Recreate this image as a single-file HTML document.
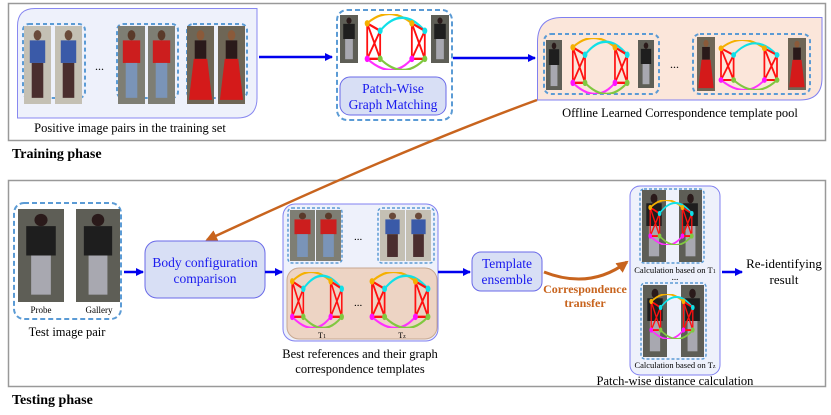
<!DOCTYPE html>
<html><head><meta charset="utf-8"><style>
body{margin:0;background:#fff}
svg{display:block}
text{font-family:"Liberation Serif",serif}
</style></head><body>
<svg width="831" height="415" viewBox="0 0 831 415" xmlns="http://www.w3.org/2000/svg">
<defs>
<marker id="ab" markerWidth="8" markerHeight="8" refX="7" refY="4" orient="auto" markerUnits="userSpaceOnUse"><path d="M0,0L8,4L0,8z" fill="#0000ee"/></marker>
<marker id="ao" markerWidth="12" markerHeight="12" refX="10" refY="6" orient="auto" markerUnits="userSpaceOnUse"><path d="M0,0L12,6L0,12z" fill="#c8641e"/></marker>
<symbol id="pb" viewBox="0 0 28 76" preserveAspectRatio="none"><rect width="28" height="76" fill="#c4c0b4"/><ellipse cx="14" cy="9" rx="4" ry="5" fill="#6a4a3a"/><rect x="6" y="14" width="16" height="22" fill="#3a5aa8"/><rect x="8" y="36" width="12" height="34" fill="#4a2e2e"/></symbol>
<symbol id="pr" viewBox="0 0 28 76" preserveAspectRatio="none"><rect width="28" height="76" fill="#7e7e74"/><ellipse cx="14" cy="9" rx="4" ry="5" fill="#5a3a2a"/><rect x="5" y="14" width="18" height="22" fill="#cc1e1e"/><rect x="8" y="36" width="12" height="34" fill="#7a94b8"/></symbol>
<symbol id="ps" viewBox="0 0 28 76" preserveAspectRatio="none"><rect width="28" height="76" fill="#6e6656"/><ellipse cx="14" cy="9" rx="4" ry="5" fill="#8a5a3a"/><rect x="8" y="14" width="12" height="18" fill="#2a1a1a"/><path d="M7,32L21,32L26,72L2,72z" fill="#d41a1a"/></symbol>
<symbol id="pk" viewBox="0 0 28 76" preserveAspectRatio="none"><rect width="28" height="76" fill="#5e5e56"/><ellipse cx="14" cy="9" rx="4" ry="5" fill="#2a1a1a"/><rect x="5" y="14" width="18" height="24" fill="#1e1e1e"/><rect x="8" y="38" width="12" height="32" fill="#a8a8b0"/></symbol>
<symbol id="g" viewBox="0 0 100 60" preserveAspectRatio="none">
<g fill="none" stroke-width="2.5">
<path d="M10,10 Q40,-10 72,10" stroke="#f5b000"/>
<path d="M28,18 Q58,-10 90,18" stroke="#10e0e8"/>
<path d="M10,48 Q45,72 72,48" stroke="#ff30ff"/>
<path d="M28,48 Q60,72 90,48" stroke="#80c840"/>
<g stroke="#ff1010"><path d="M10,10L28,18L28,48L10,48Z M10,10L28,48 M28,18L10,48"/><path d="M72,10L90,18L90,48L72,48Z M72,10L90,48 M90,18L72,48"/></g>
</g>
<circle cx="10" cy="10" r="3.5" fill="#f5b000"/><circle cx="72" cy="10" r="3.5" fill="#f5b000"/>
<circle cx="28" cy="18" r="3.5" fill="#10e0e8"/><circle cx="90" cy="18" r="3.5" fill="#10e0e8"/>
<circle cx="10" cy="48" r="3.5" fill="#ff10ff"/><circle cx="72" cy="48" r="3.5" fill="#ff10ff"/>
<circle cx="28" cy="48" r="3.5" fill="#80c840"/><circle cx="90" cy="48" r="3.5" fill="#80c840"/>
</symbol>
</defs>

<!-- Training -->
<rect x="8.5" y="3.5" width="817" height="137" fill="#fff" stroke="#999" stroke-width="1.5"/>
<text x="12" y="158" font-size="14" font-weight="bold">Training phase</text>
<path d="M35,8.5H257V98Q257,118 237,118H17.5V26Q17.5,8.5 35,8.5Z" fill="#eef1fb" stroke="#8888f0"/>
<g fill="none" stroke="#5b9bd5" stroke-width="2" stroke-dasharray="4,3">
<rect x="23" y="24" width="62" height="74" rx="6"/><rect x="117" y="24" width="61" height="74" rx="6"/><rect x="187" y="24" width="60" height="74" rx="6"/>
</g>
<use href="#pb" x="24" y="26" width="27" height="78"/><use href="#pb" x="55" y="26" width="27" height="78"/>
<use href="#pr" x="118" y="26" width="27" height="78"/><use href="#pr" x="148" y="26" width="27" height="78"/>
<use href="#ps" x="187" y="26" width="27" height="78"/><use href="#ps" x="218" y="26" width="27" height="78"/>
<text x="95" y="70" font-size="12">...</text>
<text x="130" y="132" font-size="12.5" text-anchor="middle">Positive image pairs in the training set</text>
<line x1="259" y1="57" x2="332" y2="57" stroke="#0000ee" stroke-width="2.5" marker-end="url(#ab)"/>

<rect x="337" y="10" width="115" height="110" rx="10" fill="#fff" stroke="#5b9bd5" stroke-width="2" stroke-dasharray="5,3"/>
<use href="#pk" x="340" y="15" width="18" height="48"/>
<use href="#pk" x="431" y="15" width="18" height="48"/>
<use href="#g" x="360" y="14" width="72" height="56"/>
<rect x="340" y="77" width="106" height="38" rx="10" fill="#d8dff5" stroke="#6a6ae8"/>
<text x="393" y="93" font-size="13.5" fill="#1a1aee" text-anchor="middle">Patch-Wise</text>
<text x="393" y="109" font-size="13.5" fill="#1a1aee" text-anchor="middle">Graph Matching</text>
<line x1="453" y1="58" x2="535" y2="58" stroke="#0000ee" stroke-width="2.5" marker-end="url(#ab)"/>

<path d="M562,17.5H822V78Q822,100 800,100H537.5V42Q537.5,17.5 562,17.5Z" fill="#fbe6da" stroke="#8080f0"/>
<g fill="none" stroke="#5b9bd5" stroke-width="2" stroke-dasharray="4,3">
<rect x="544" y="34" width="115" height="60" rx="7"/><rect x="693" y="34" width="117" height="60" rx="7"/>
</g>
<use href="#pk" x="546" y="40" width="16" height="50"/><use href="#pk" x="638" y="40" width="16" height="48"/>
<use href="#g" x="566" y="38" width="68" height="56"/>
<text x="670" y="68" font-size="12">...</text>
<use href="#ps" x="697" y="37" width="18" height="54"/><use href="#ps" x="788" y="38" width="18" height="52"/>
<use href="#g" x="714" y="40" width="70" height="50"/>
<text x="680" y="117" font-size="12.5" text-anchor="middle">Offline Learned Correspondence template pool</text>

<!-- Testing -->
<rect x="8.5" y="180.5" width="817" height="206" fill="#fff" stroke="#999" stroke-width="1.5"/>
<text x="12" y="404" font-size="14" font-weight="bold">Testing phase</text>
<path d="M537,100 Q400,150 207,240" fill="none" stroke="#c8641e" stroke-width="2.5" marker-end="url(#ao)"/>

<rect x="14" y="203" width="107" height="116" rx="10" fill="#fff" stroke="#5b9bd5" stroke-width="2" stroke-dasharray="5,3"/>
<use href="#pk" x="18" y="209" width="46" height="93"/><use href="#pk" x="76" y="209" width="44" height="93"/>
<text x="41" y="313" font-size="9" text-anchor="middle">Probe</text>
<text x="99" y="313" font-size="9" text-anchor="middle">Gallery</text>
<text x="67" y="336" font-size="12.5" text-anchor="middle">Test image pair</text>
<line x1="124" y1="272" x2="143" y2="272" stroke="#0000ee" stroke-width="2.5" marker-end="url(#ab)"/>
<rect x="145" y="241" width="120" height="57" rx="12" fill="#d8dff5" stroke="#6a6ae8"/>
<text x="205" y="267" font-size="13.5" fill="#1a1aee" text-anchor="middle">Body configuration</text>
<text x="205" y="283" font-size="13.5" fill="#1a1aee" text-anchor="middle">comparison</text>
<line x1="265" y1="272" x2="282" y2="272" stroke="#0000ee" stroke-width="2.5" marker-end="url(#ab)"/>

<rect x="283" y="204" width="155" height="137" rx="12" fill="#eef1fb" stroke="#8080f0"/>
<g fill="none" stroke="#5b9bd5" stroke-width="1.5" stroke-dasharray="3,2">
<rect x="288" y="208" width="54" height="55" rx="4"/><rect x="378" y="208" width="56" height="55" rx="4"/></g>
<use href="#pr" x="290" y="210" width="25" height="51"/><use href="#pr" x="316" y="210" width="25" height="51"/>
<use href="#pb" x="380" y="210" width="25" height="51"/><use href="#pb" x="406" y="210" width="25" height="51"/>
<text x="354" y="240" font-size="11">...</text>
<rect x="287" y="268" width="150" height="71" rx="12" fill="#edd4c4" stroke="#c8a890"/>
<use href="#g" x="286" y="272" width="62" height="56"/>
<use href="#g" x="365" y="272" width="70" height="56"/>
<text x="354" y="306" font-size="11">...</text>
<text x="322" y="338" font-size="8" text-anchor="middle">T<tspan font-size="6">1</tspan></text>
<text x="402" y="338" font-size="8" text-anchor="middle">T<tspan font-size="6">z</tspan></text>
<text x="360" y="358" font-size="12.5" text-anchor="middle">Best references and their graph</text>
<text x="360" y="373" font-size="12.5" text-anchor="middle">correspondence templates</text>
<line x1="438" y1="272" x2="470" y2="272" stroke="#0000ee" stroke-width="2.5" marker-end="url(#ab)"/>

<rect x="472" y="252" width="70" height="39" rx="9" fill="#d8dff5" stroke="#6a6ae8"/>
<text x="507" y="268" font-size="13.5" fill="#1a1aee" text-anchor="middle">Template</text>
<text x="507" y="284" font-size="13.5" fill="#1a1aee" text-anchor="middle">ensemble</text>
<path d="M544,272 Q590,290 627,262" fill="none" stroke="#c8641e" stroke-width="3" marker-end="url(#ao)"/>
<text x="585" y="293" font-size="12" font-weight="bold" fill="#c8641e" text-anchor="middle">Correspondence</text>
<text x="585" y="307" font-size="12" font-weight="bold" fill="#c8641e" text-anchor="middle">transfer</text>

<rect x="630" y="186" width="90" height="189" rx="10" fill="#eef1fb" stroke="#8080f0"/>
<g fill="none" stroke="#5b9bd5" stroke-width="1.5" stroke-dasharray="3,2">
<rect x="640" y="189" width="64" height="74" rx="4"/><rect x="641" y="283" width="65" height="76" rx="4"/></g>
<use href="#pk" x="642" y="190" width="24" height="72"/><use href="#pk" x="679" y="190" width="23" height="72"/>
<use href="#pk" x="643" y="285" width="24" height="72"/><use href="#pk" x="681" y="285" width="23" height="72"/>
<use href="#g" x="645" y="200" width="52" height="45"/>
<use href="#g" x="646" y="294" width="52" height="45"/>
<text x="675" y="273" font-size="8.5" text-anchor="middle">Calculation based on T<tspan font-size="6">1</tspan></text>
<text x="675" y="280" font-size="9" text-anchor="middle">...</text>
<text x="675" y="368" font-size="8.5" text-anchor="middle">Calculation based on T<tspan font-size="6">z</tspan></text>
<text x="675" y="385" font-size="12.5" text-anchor="middle">Patch-wise distance calculation</text>
<line x1="722" y1="272" x2="742" y2="272" stroke="#0000ee" stroke-width="2.5" marker-end="url(#ab)"/>
<text x="784" y="268" font-size="13" text-anchor="middle">Re-identifying</text>
<text x="784" y="284" font-size="13" text-anchor="middle">result</text>
</svg>
</body></html>
